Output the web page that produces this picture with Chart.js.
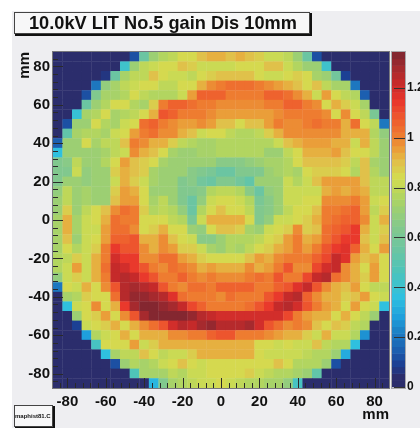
<!DOCTYPE html>
<html>
<head>
<meta charset="utf-8">
<script src="https://cdn.jsdelivr.net/npm/chart.js@4/dist/chart.umd.js"></script>
<style>
  html, body { margin: 0; padding: 0; background: #fff; }
  canvas { display: block; filter: blur(0.4px); }
</style>
</head>
<body>
<canvas id="chartJSContainer" width="420" height="428"></canvas>
<script>
const titleText = "10.0kV LIT No.5 gain Dis 10mm"
const macroText = "maphist81.C"
const axisUnit = "mm"

// bin centres in mm
const binCenters = [-85,-80,-75,-70,-65,-60,-55,-50,-45,-40,-35,-30,-25,-20,-15,-10,-5,0,5,10,15,20,25,30,35,40,45,50,55,60,65,70,75,80,85]
const axisTicks = [-84,-80,-76,-72,-68,-64,-60,-56,-52,-48,-44,-40,-36,-32,-28,-24,-20,-16,-12,-8,-4,0,4,8,12,16,20,24,28,32,36,40,44,48,52,56,60,64,68,72,76,80,84]
const colorTicks = [0,0.2,0.4,0.6,0.8,1,1.2]

// gain x 100, first row is y = 85, last row is y = -85
const gainRows = [
  [0,0,0,0,0,0,0,0,12,55,72,78,80,85,85,90,92,93,90,93,90,87,82,82,80,72,55,12,0,0,0,0,0,0,0],
  [0,0,0,0,0,0,5,42,70,80,82,85,85,90,88,82,82,83,83,85,84,84,90,90,82,78,72,70,42,5,0,0,0,0,0],
  [0,0,0,0,0,8,55,75,80,80,90,85,82,82,80,85,88,90,90,90,90,85,83,83,85,88,85,75,72,58,10,0,0,0,0],
  [0,0,0,0,20,68,73,80,82,85,85,80,80,85,85,92,98,102,104,104,104,100,97,96,93,90,85,90,80,75,75,20,0,0,0],
  [0,0,0,12,62,73,75,78,85,80,78,78,78,82,95,106,106,105,102,100,100,100,107,105,103,98,93,83,95,85,80,78,15,0,0],
  [0,0,0,55,72,78,85,85,78,75,88,100,107,105,103,102,100,98,97,97,97,97,100,100,105,105,100,97,85,93,88,82,75,5,0],
  [0,3,38,75,78,85,75,77,80,85,92,108,106,102,100,102,98,95,95,95,95,95,96,98,100,102,100,100,97,85,97,85,80,60,0],
  [0,12,70,72,85,77,75,82,85,103,105,100,97,95,95,97,95,90,90,85,90,90,96,100,98,98,100,103,100,100,93,103,85,80,20],
  [5,52,73,78,78,73,82,85,96,102,103,97,97,93,90,83,85,85,80,78,78,80,88,93,97,98,98,99,98,98,92,93,92,78,68],
  [15,70,72,85,75,80,80,90,100,98,93,92,88,80,78,75,75,77,77,77,77,77,78,82,90,93,96,96,96,93,92,82,92,80,72],
  [35,70,72,72,72,75,80,82,97,93,90,84,74,72,72,73,75,76,76,76,76,76,72,72,80,85,92,92,92,95,90,85,85,80,70],
  [62,65,80,70,72,78,85,96,90,88,85,74,70,70,70,72,70,67,66,66,68,72,74,74,76,84,90,90,90,90,88,80,90,75,70],
  [62,64,82,68,72,72,88,92,90,88,75,72,72,70,66,64,60,56,56,62,64,62,72,74,76,75,85,87,87,87,86,78,90,78,70],
  [62,70,70,68,70,72,82,94,88,82,74,72,72,64,66,58,56,62,63,58,52,70,72,72,82,76,82,90,95,95,95,95,90,80,80],
  [68,80,72,75,72,72,88,96,94,85,72,70,72,63,62,66,78,80,80,76,66,55,68,72,82,82,82,82,92,95,92,95,92,80,80],
  [72,80,72,75,72,72,90,96,95,86,74,80,72,64,55,68,82,84,84,82,76,60,66,70,82,82,85,85,97,98,97,100,95,82,85],
  [72,88,72,80,85,90,97,103,100,88,78,80,76,68,55,76,84,90,84,84,80,64,66,72,80,85,85,90,100,102,103,105,95,80,88],
  [74,92,75,82,85,94,103,102,100,85,84,84,80,76,60,83,92,94,92,92,84,64,68,82,82,84,88,92,100,103,105,105,97,82,92],
  [75,93,74,82,82,96,104,103,98,85,88,94,84,84,72,68,86,90,90,88,74,72,82,85,87,97,88,90,103,105,110,113,92,82,88],
  [73,90,72,82,85,96,107,106,109,92,93,97,90,86,82,66,66,72,78,76,76,80,85,88,95,102,92,95,103,108,115,114,90,82,90],
  [74,84,78,82,88,100,114,109,110,98,94,98,95,87,87,82,74,72,78,74,80,84,87,92,96,102,95,100,110,115,118,105,92,84,95],
  [78,80,88,82,92,102,120,114,113,98,98,104,104,95,93,88,84,84,84,84,90,95,94,98,100,100,100,107,112,122,118,95,90,92,85],
  [76,82,96,82,94,103,122,120,115,110,100,99,103,100,98,92,96,92,92,92,97,92,96,102,108,97,97,112,120,122,98,93,85,96,84],
  [68,82,88,82,92,100,122,125,122,115,108,100,100,106,100,98,100,98,98,98,100,103,100,110,100,100,112,122,125,103,97,92,88,96,85],
  [20,84,82,92,84,98,110,126,128,125,123,110,100,97,104,104,100,106,107,107,107,102,100,105,108,118,122,110,98,93,90,95,85,80,80],
  [2,75,78,88,85,84,104,125,130,130,128,124,117,104,100,100,100,98,103,100,100,100,108,113,123,124,106,98,93,92,88,90,95,85,82],
  [0,35,82,84,97,84,94,113,128,132,133,130,127,123,112,105,100,100,100,100,103,108,114,122,124,120,108,100,95,93,85,96,85,82,35],
  [0,3,72,84,88,96,86,98,110,127,133,134,134,132,130,125,122,120,120,120,120,120,120,120,112,100,95,92,92,84,94,85,80,72,0],
  [0,0,10,82,84,88,92,86,93,98,103,110,120,126,122,128,130,125,125,125,127,120,108,103,98,100,97,90,84,90,88,80,78,5,0],
  [0,0,0,28,78,82,86,93,85,92,93,92,97,98,100,102,105,108,108,102,100,100,98,95,93,93,88,82,92,82,82,78,25,0,0],
  [0,0,0,0,45,84,84,85,96,82,88,93,93,93,93,93,93,93,93,93,93,86,85,82,84,82,82,90,80,76,76,35,0,0,0],
  [0,0,0,0,0,36,75,80,80,90,85,80,82,82,88,92,92,92,92,92,92,85,82,82,82,83,80,78,76,72,30,0,0,0,0],
  [0,0,0,0,0,0,12,72,78,75,78,82,85,90,85,82,85,84,84,84,84,84,84,90,84,78,77,76,72,12,0,0,0,0,0],
  [0,0,0,0,0,0,0,4,48,75,73,75,80,78,82,82,84,84,84,84,88,82,80,78,76,74,72,52,5,5,0,0,0,0,0],
  [0,0,0,0,0,0,0,0,0,0,33,62,75,78,80,82,82,84,82,80,78,76,74,74,68,45,0,0,0,0,0,0,0,0,0]
]

// colour stops
const paletteValues = [0,0.04,0.09,0.14,0.22,0.28,0.36,0.47,0.56,0.65,0.72,0.78,0.84,0.9,0.94,1,1.08,1.15,1.22,1.28,1.345]
const paletteColors = ["#2b2d6c","#2b2d6c","#1c3d92","#1c5cae","#1d7fc4","#1f9fdc","#2ec0e0","#4fc4b8","#6ec5a0","#86c98a","#9fd070","#b8d65c","#d3dc50","#e0c24a","#e9a83c","#ee8030","#ee5a2e","#e8352c","#c72a2a","#a52a2e","#7c2630"]
const paletteSteps = 50
const zMax = 1.345

function hexRgb(h) {
  return [parseInt(h.substr(1,2),16), parseInt(h.substr(3,2),16), parseInt(h.substr(5,2),16)]
}

function gainColor(v) {
  // root style palette, flat colour per level
  let lvl = Math.min(paletteSteps - 1, Math.floor(v / zMax * paletteSteps))
  let t = (lvl + 0.5) * zMax / paletteSteps
  let k = 0
  while (k < paletteValues.length - 2 && t > paletteValues[k + 1]) k++
  let f = (t - paletteValues[k]) / (paletteValues[k + 1] - paletteValues[k])
  let a = hexRgb(paletteColors[k])
  let b = hexRgb(paletteColors[k + 1])
  let c = a.map((x, i) => Math.round(x + (b[i] - x) * f))
  return "rgb(" + c.join(",") + ")"
}

let cells = []
gainRows.forEach((row, r) => {
  row.forEach((g, c) => {
    cells.push({ x: binCenters[c], y: binCenters[34 - r], v: g / 100 })
  })
})

function box(ctx, x, y, w, h) {
  ctx.fillStyle = "#111"
  ctx.fillRect(x + 1, y + 1, w + 1, h + 1)
  ctx.fillStyle = "#f7f7f8"
  ctx.fillRect(x, y, w, h)
  ctx.strokeStyle = "#444"
  ctx.lineWidth = 1
  ctx.strokeRect(x + 0.5, y + 0.5, w - 1, h - 1)
}

const pagePlugin = {
  id: "page",
  beforeDraw(chart) {
    let ctx = chart.ctx
    ctx.save()
    ctx.fillStyle = "#eeeef1"
    ctx.fillRect(12, 11, 408, 417)
    ctx.restore()
  },
  afterDatasetsDraw(chart) {
    let ctx = chart.ctx
    let a = chart.chartArea
    let sx = chart.scales.x
    let sy = chart.scales.y
    let sz = chart.scales.z
    ctx.save()

    // ticks go inside the frame
    ctx.strokeStyle = "#2a2a2a"
    ctx.lineWidth = 1
    ctx.beginPath()
    axisTicks.forEach((v) => {
      let len = v % 20 === 0 ? 10 : 5
      let px = Math.round(sx.getPixelForValue(v)) + 0.5
      let py = Math.round(sy.getPixelForValue(v)) + 0.5
      ctx.moveTo(px, a.bottom)
      ctx.lineTo(px, a.bottom - len)
      ctx.moveTo(a.left, py)
      ctx.lineTo(a.left + len, py)
    })
    ctx.stroke()
    ctx.strokeStyle = "#77777c"
    ctx.strokeRect(a.left - 0.5, a.top - 0.5, a.right - a.left + 1, a.bottom - a.top + 1)

    // palette bar, flat levels
    let barX = 392
    let barW = 13
    for (let i = 0; i < paletteSteps; i++) {
      let lo = sz.getPixelForValue(i * zMax / paletteSteps)
      let hi = sz.getPixelForValue((i + 1) * zMax / paletteSteps)
      ctx.fillStyle = gainColor((i + 0.5) * zMax / paletteSteps)
      ctx.fillRect(barX, hi, barW, lo - hi + 0.5)
    }
    ctx.strokeStyle = "#a8a8ac"
    ctx.strokeRect(barX - 0.5, a.top - 0.5, barW + 1, a.bottom - a.top + 1)
    ctx.strokeStyle = "#333"
    ctx.beginPath()
    colorTicks.forEach((v) => {
      let py = Math.round(sz.getPixelForValue(v)) + 0.5
      ctx.moveTo(barX + 2, py)
      ctx.lineTo(barX + barW, py)
    })
    ctx.stroke()

    // title and macro name boxes
    box(ctx, 14, 12, 296, 22)
    ctx.fillStyle = "#111"
    ctx.textAlign = "left"
    ctx.textBaseline = "middle"
    ctx.font = "bold 18.2px 'Liberation Sans'"
    ctx.fillText(titleText, 29, 23.5)
    box(ctx, 14, 405, 39, 22)
    ctx.fillStyle = "#111"
    ctx.font = "bold 6px 'Liberation Sans'"
    ctx.fillText(macroText, 15, 416)
    ctx.restore()
  }
}

const tickFont = { family: "Liberation Sans", size: 15, weight: "bold" }
const colorTickFont = { family: "Liberation Sans", size: 12, weight: "bold" }

var options = {
  type: "scatter",
  data: {
    datasets: [{
      data: cells,
      pointStyle: "rect",
      pointBorderWidth: 0,
      pointRadius: (c) => {
        let s = c.chart.scales.x
        return (s.getPixelForValue(5) - s.getPixelForValue(0)) / Math.SQRT2 + 0.25
      },
      pointBackgroundColor: (c) => c.raw ? gainColor(c.raw.v) : "#000"
    }]
  },
  options: {
    responsive: false,
    animation: false,
    layout: { autoPadding: false, padding: { top: 52 } },
    plugins: { legend: { display: false }, tooltip: { enabled: false } },
    scales: {
      x: {
        type: "linear",
        min: -87.5,
        max: 87.5,
        grid: { display: false, drawTicks: false },
        border: { display: false },
        afterBuildTicks: (s) => { s.ticks = axisTicks.map((v) => ({ value: v })) },
        afterFit: (s) => { s.height = 40 },
        ticks: {
          autoSkip: false,
          maxRotation: 0,
          padding: 5,
          color: "#111",
          font: tickFont,
          callback: (v) => v % 20 === 0 ? String(v) : ""
        },
        title: {
          display: true,
          text: axisUnit,
          align: "end",
          color: "#111",
          font: tickFont,
          padding: { top: 0, bottom: 4 }
        }
      },
      y: {
        type: "linear",
        min: -87.5,
        max: 87.5,
        grid: { display: false, drawTicks: false },
        border: { display: false },
        afterBuildTicks: (s) => { s.ticks = axisTicks.map((v) => ({ value: v })) },
        afterFit: (s) => { s.width = 53 },
        ticks: {
          autoSkip: false,
          padding: 3,
          color: "#111",
          font: tickFont,
          callback: (v) => v % 20 === 0 ? String(v) : ""
        },
        title: {
          display: true,
          text: axisUnit,
          align: "end",
          color: "#111",
          font: tickFont,
          padding: { top: 16, bottom: 0 }
        }
      },
      z: {
        type: "linear",
        position: "right",
        min: -0.005,
        max: 1.345,
        grid: { display: false, drawTicks: false },
        border: { display: false },
        afterBuildTicks: (s) => { s.ticks = colorTicks.map((v) => ({ value: v })) },
        afterFit: (s) => { s.width = 31 },
        ticks: {
          autoSkip: false,
          padding: 18,
          color: "#111",
          font: colorTickFont,
          callback: (v) => String(v)
        }
      }
    }
  },
  plugins: [pagePlugin]
}

var ctx = document.getElementById("chartJSContainer").getContext("2d")
new Chart(ctx, options)
</script>
</body>
</html>
